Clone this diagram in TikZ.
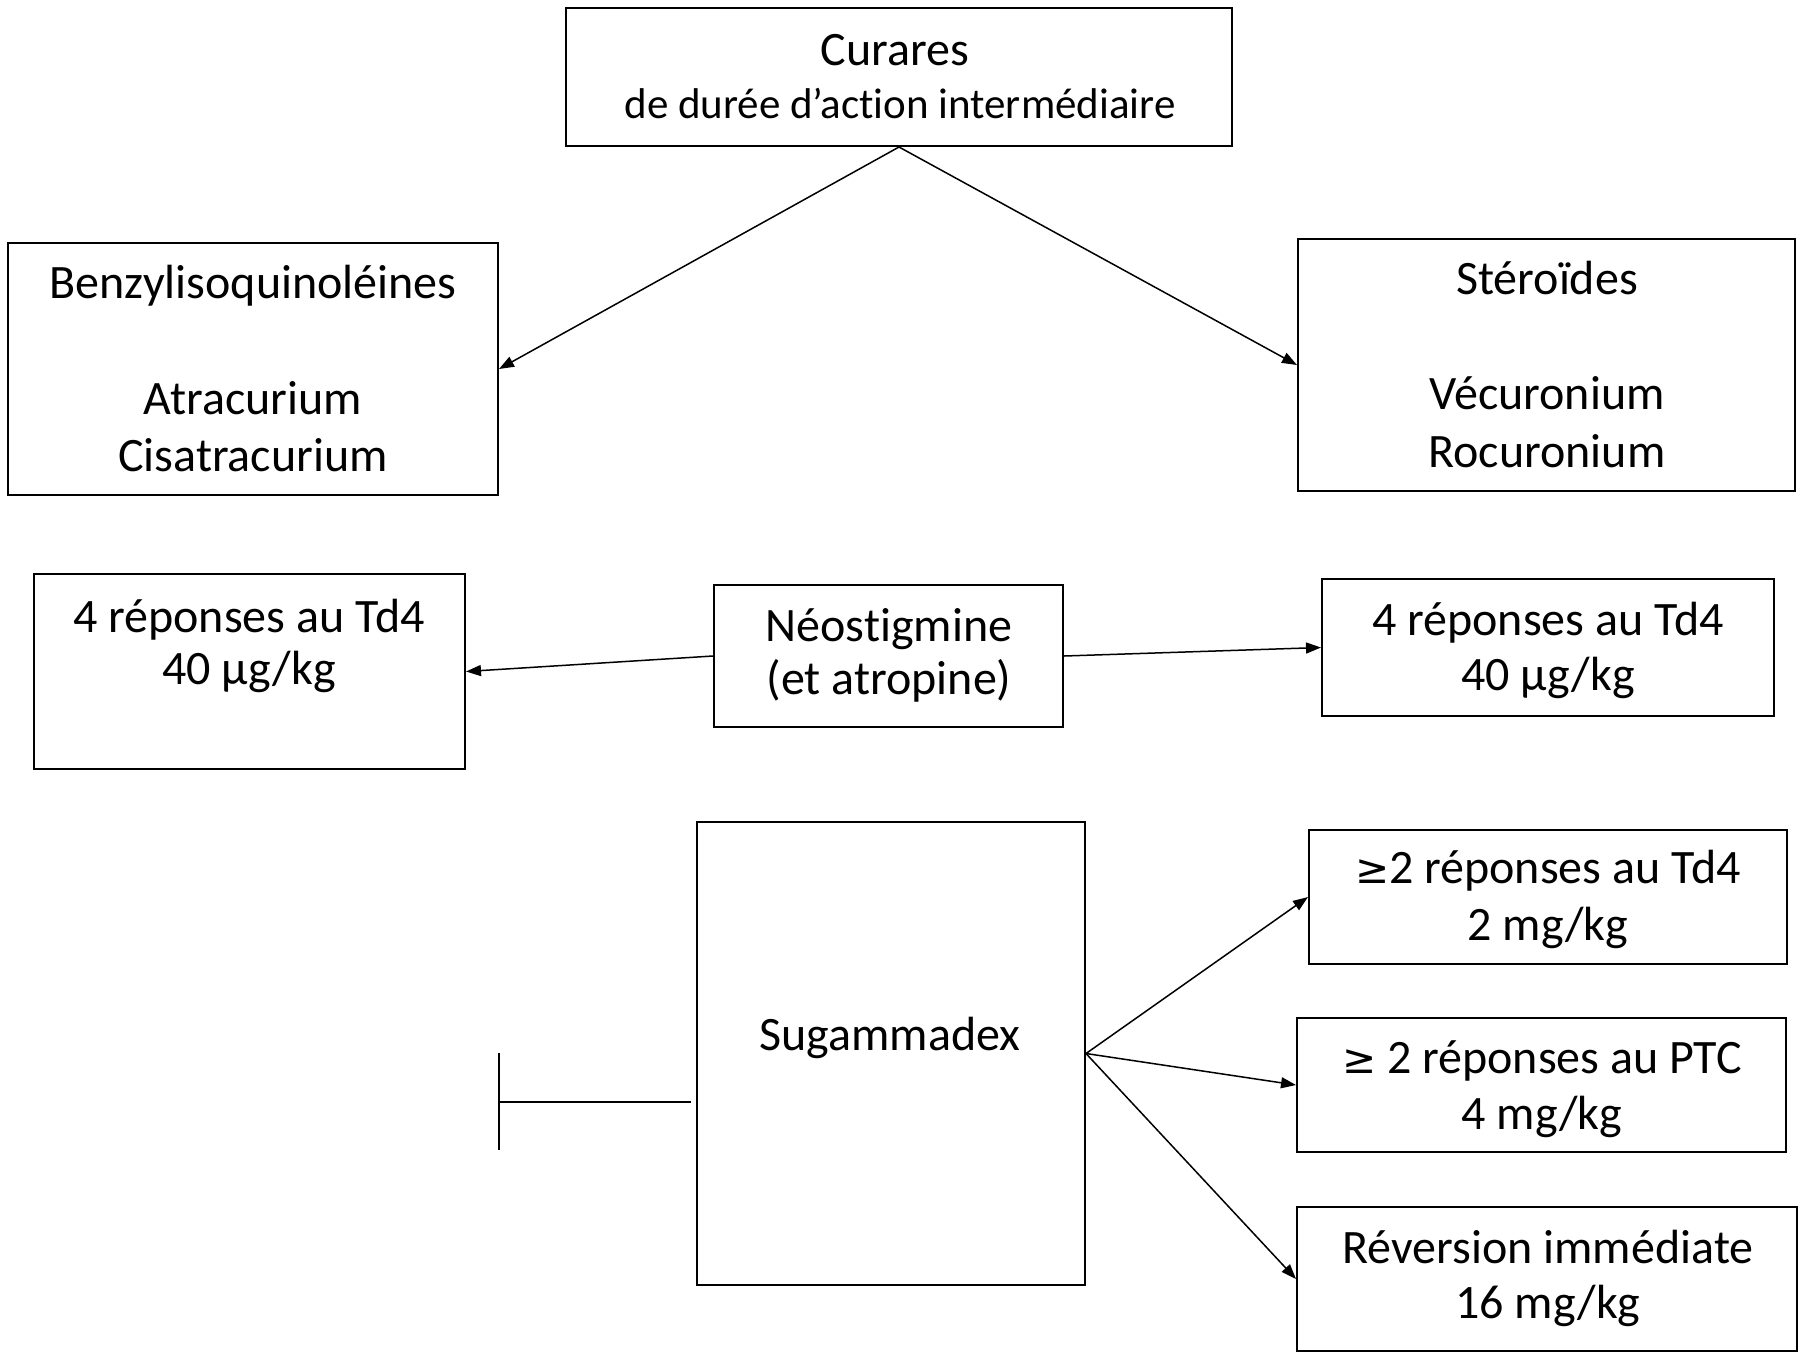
\documentclass[tikz,border=0pt]{standalone}
\usepackage{fontspec}
\setmainfont{Carlito}[Ligatures={NoCommon}]
\newfontfamily\geqfont{DejaVu Sans}[Scale=0.85]
\usetikzlibrary{arrows.meta}
\newcommand{\mygeq}{{\geqfont ≥}}
\begin{document}
\begin{tikzpicture}[x=1pt,y=-1pt,
  box/.style={draw=black,line width=2pt,inner sep=0pt,rectangle},
  txt/.style={inner sep=0pt,anchor=base,font=\fontsize{48}{57}\selectfont},
  txts/.style={inner sep=0pt,anchor=base,font=\fontsize{43}{50}\selectfont},
  conn/.style={line width=1.5pt,-{Triangle[length=15pt,width=11pt]}},
  plain/.style={line width=1.5pt}]
\useasboundingbox (0,0) rectangle (1798,1353);
% boxes
\node[box,minimum width=666pt,minimum height=138pt] (top) at (899,77) {};
\node[box,minimum width=490pt,minimum height=252pt] (benz) at (253,369) {};
\node[box,minimum width=497pt,minimum height=252pt] (ster) at (1546.5,365) {};
\node[box,minimum width=431pt,minimum height=195pt] (lfour) at (249.5,671.5) {};
\node[box,minimum width=349pt,minimum height=142pt] (neo) at (888.5,656) {};
\node[box,minimum width=452pt,minimum height=137pt] (rfour) at (1548,647.5) {};
\node[box,minimum width=388pt,minimum height=463pt] (sug) at (891,1053.5) {};
\node[box,minimum width=478pt,minimum height=134pt] (tdq) at (1548,897) {};
\node[box,minimum width=489pt,minimum height=134pt] (ptc) at (1541.5,1085) {};
\node[box,minimum width=500pt,minimum height=144pt] (rev) at (1547,1279) {};
% texts
\node[txt] (topa) at (895,65) {Curares};
\node[txts] (topb) at (900,118) {de durée d’action intermédiaire};
\node[txt] (benza) at (253,298) {Benzylisoquinoléines};
\node[txt] (benzb) at (253,414) {Atracurium};
\node[txt] (benzc) at (253,471) {Cisatracurium};
\node[txt] (stera) at (1547,294) {Stéroïdes};
\node[txt] (sterb) at (1547,409) {Vécuronium};
\node[txt] (sterc) at (1547,467) {Rocuronium};
\node[txt] (lfoura) at (249,632) {4 réponses au Td4};
\node[txt] (lfourb) at (249,684) {40 µg/kg};
\node[txt] (neoa) at (889,641) {Néostigmine};
\node[txt] (neob) at (889,694) {(et atropine)};
\node[txt] (rfoura) at (1548,635) {4 réponses au Td4};
\node[txt] (rfourb) at (1548,690) {40 µg/kg};
\node[txt] (suga) at (890,1050) {Sugammadex};
\node[txt] (tdqa) at (1548,883) {\mygeq2 réponses au Td4};
\node[txt] (tdqb) at (1548,940) {2 mg/kg};
\node[txt] (ptca) at (1542,1073) {\mygeq{} 2 réponses au PTC};
\node[txt] (ptcb) at (1542,1129) {4 mg/kg};
\node[txt] (reva) at (1548,1263) {Réversion immédiate};
\node[txt] (revb) at (1548,1318) {16 mg/kg};
% connectors
\draw[conn] (top.south) -- (benz.east);
\draw[conn] (top.south) -- (ster.west);
\draw[conn] (neo.west) -- (lfour.east);
\draw[conn] (neo.east) -- (rfour.west);
\draw[conn] (sug.east) -- (tdq.west);
\draw[conn] (sug.east) -- (ptc.west);
\draw[conn] (sug.east) -- (rev.west);
% T-bar
\coordinate (ta) at (691,1102);
\coordinate (tb) at (499,1102);
\coordinate (tt) at (499,1053);
\coordinate (tu) at (499,1150);
\draw[plain] (ta) -- (tb);
\draw[plain] (tt) -- (tu);
\end{tikzpicture}
\end{document}
